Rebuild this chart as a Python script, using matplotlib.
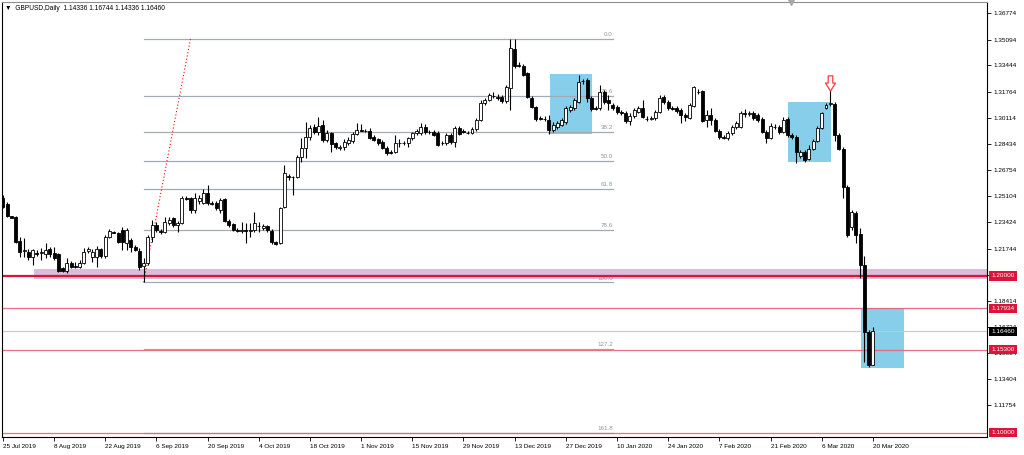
import matplotlib
matplotlib.use('Agg')
import matplotlib.pyplot as plt
import matplotlib.transforms as mtransforms
from matplotlib.patches import Rectangle
from matplotlib.path import Path
import numpy as np

plt.rcParams['font.family'] = ['Liberation Sans', 'DejaVu Sans']

# date labels, one every 12 daily bars (broker shows Sunday bars)
date_labels = ['25 Jul 2019', '8 Aug 2019', '22 Aug 2019', '6 Sep 2019', '20 Sep 2019',
               '4 Oct 2019', '18 Oct 2019', '1 Nov 2019', '15 Nov 2019', '29 Nov 2019',
               '13 Dec 2019', '27 Dec 2019', '10 Jan 2020', '24 Jan 2020', '7 Feb 2020',
               '21 Feb 2020', '6 Mar 2020', '20 Mar 2020']
bars_per_label = 12

opens = [
    1.2498, 1.2460, 1.2380, 1.2376, 1.2223, 1.2159, 1.2153, 1.2121, 1.2147, 1.2147, 1.2140, 1.2172,
    1.2147, 1.2140, 1.2051, 1.2032, 1.2083, 1.2064, 1.2057, 1.2083, 1.2159, 1.2121, 1.2121, 1.2172,
    1.2127, 1.2249, 1.2281, 1.2274, 1.2293, 1.2210, 1.2229, 1.2185, 1.2159, 1.2064, 1.2083, 1.2249,
    1.2325, 1.2287, 1.2281, 1.2338, 1.2370, 1.2325, 1.2338, 1.2498, 1.2498, 1.2421, 1.2479, 1.2466,
    1.2530, 1.2466, 1.2466, 1.2421, 1.2491, 1.2351, 1.2332, 1.2293, 1.2287, 1.2293, 1.2290, 1.2293,
    1.2319, 1.2306, 1.2319, 1.2287, 1.2217, 1.2210, 1.2440, 1.2638, 1.2632, 1.2632, 1.2759, 1.2817,
    1.2887, 1.2951, 1.2919, 1.2964, 1.2868, 1.2913, 1.2849, 1.2820, 1.2823, 1.2849, 1.2862, 1.2906,
    1.2932, 1.2929, 1.2926, 1.2887, 1.2874, 1.2855, 1.2817, 1.2791, 1.2791, 1.2849, 1.2846, 1.2849,
    1.2881, 1.2913, 1.2913, 1.2951, 1.2922, 1.2919, 1.2913, 1.2849, 1.2849, 1.2900, 1.2855, 1.2945,
    1.2926, 1.2916, 1.2913, 1.2938, 1.2996, 1.3104, 1.3124, 1.3152, 1.3143, 1.3143, 1.3117, 1.3200,
    1.3449, 1.3347, 1.3341, 1.3296, 1.3136, 1.3079, 1.3008, 1.3005, 1.2996, 1.2932, 1.2951, 1.2964,
    1.2983, 1.3060, 1.3072, 1.3111, 1.3242, 1.3251, 1.3136, 1.3072, 1.3072, 1.3175, 1.3124, 1.3092,
    1.3079, 1.3044, 1.3040, 1.2989, 1.3021, 1.3047, 1.3072, 1.3005, 1.3005, 1.3008, 1.3047, 1.3143,
    1.3111, 1.3072, 1.3072, 1.3060, 1.3028, 1.3008, 1.3085, 1.3178, 1.3181, 1.2996, 1.3028, 1.2996,
    1.2926, 1.2887, 1.2881, 1.2913, 1.2951, 1.2951, 1.3040, 1.3037, 1.3040, 1.3028, 1.3002, 1.2919,
    1.2881, 1.2954, 1.2951, 1.2919, 1.3002, 1.2900, 1.2887, 1.2766, 1.2791, 1.2747, 1.2811, 1.2862,
    1.2945, 1.3072, 1.3098, 1.3098, 1.2900, 1.2811, 1.2568, 1.2312, 1.2402, 1.2268, 1.2070, 1.1645,
    1.14336]
highs = [
    1.2517, 1.2472, 1.2383, 1.2383, 1.2249, 1.2242, 1.2172, 1.2172, 1.2166, 1.2178, 1.2210, 1.2185,
    1.2185, 1.2147, 1.2057, 1.2115, 1.2096, 1.2089, 1.2102, 1.2178, 1.2185, 1.2172, 1.2191, 1.2178,
    1.2261, 1.2300, 1.2287, 1.2281, 1.2312, 1.2306, 1.2242, 1.2197, 1.2178, 1.2115, 1.2261, 1.2357,
    1.2344, 1.2300, 1.2376, 1.2376, 1.2376, 1.2351, 1.2511, 1.2511, 1.2504, 1.2530, 1.2517, 1.2555,
    1.2581, 1.2479, 1.2479, 1.2498, 1.2498, 1.2364, 1.2338, 1.2306, 1.2344, 1.2338, 1.2338, 1.2408,
    1.2344, 1.2332, 1.2325, 1.2300, 1.2223, 1.2440, 1.2708, 1.2651, 1.2638, 1.2772, 1.2881, 1.2983,
    1.2964, 1.2970, 1.3015, 1.2996, 1.2932, 1.2919, 1.2855, 1.2836, 1.2874, 1.2887, 1.2919, 1.2977,
    1.2970, 1.2938, 1.2945, 1.2900, 1.2881, 1.2868, 1.2830, 1.2804, 1.2900, 1.2874, 1.2862, 1.2887,
    1.2919, 1.2938, 1.2977, 1.2970, 1.2932, 1.2932, 1.2926, 1.2862, 1.2913, 1.2913, 1.2957, 1.2957,
    1.2938, 1.2926, 1.2951, 1.3009, 1.3124, 1.3136, 1.3168, 1.3175, 1.3162, 1.3155, 1.3219, 1.3513,
    1.3513, 1.3366, 1.3353, 1.3302, 1.3149, 1.3085, 1.3021, 1.3021, 1.3028, 1.2983, 1.2989, 1.3009,
    1.3085, 1.3092, 1.3136, 1.3283, 1.3258, 1.3264, 1.3149, 1.3085, 1.3219, 1.3187, 1.3155, 1.3104,
    1.3092, 1.3060, 1.3053, 1.3040, 1.3072, 1.3085, 1.3124, 1.3021, 1.3021, 1.3060, 1.3155, 1.3155,
    1.3124, 1.3085, 1.3085, 1.3072, 1.3040, 1.3104, 1.3213, 1.3194, 1.3187, 1.3060, 1.3072, 1.3009,
    1.2938, 1.2900, 1.2926, 1.2964, 1.2989, 1.3053, 1.3066, 1.3053, 1.3053, 1.3040, 1.3015, 1.2932,
    1.2977, 1.2970, 1.2964, 1.3015, 1.3015, 1.2913, 1.2900, 1.2804, 1.2804, 1.2836, 1.2874, 1.2957,
    1.3047, 1.3104, 1.3206, 1.3111, 1.2913, 1.2823, 1.2581, 1.2421, 1.2415, 1.2306, 1.2127, 1.1655,
    1.16744]
lows = [
    1.2434, 1.2376, 1.2370, 1.2210, 1.2121, 1.2121, 1.2102, 1.2070, 1.2127, 1.2102, 1.2115, 1.2121,
    1.2102, 1.2025, 1.2025, 1.2019, 1.2051, 1.2051, 1.2051, 1.2076, 1.2147, 1.2089, 1.2057, 1.2115,
    1.2115, 1.2242, 1.2274, 1.2210, 1.2166, 1.2166, 1.2153, 1.2159, 1.2038, 1.1961, 1.2070, 1.2217,
    1.2281, 1.2268, 1.2274, 1.2325, 1.2312, 1.2281, 1.2332, 1.2485, 1.2402, 1.2402, 1.2460, 1.2460,
    1.2453, 1.2453, 1.2421, 1.2402, 1.2344, 1.2312, 1.2287, 1.2281, 1.2274, 1.2210, 1.2249, 1.2281,
    1.2281, 1.2293, 1.2281, 1.2204, 1.2197, 1.2204, 1.2434, 1.2613, 1.2517, 1.2625, 1.2727, 1.2753,
    1.2868, 1.2906, 1.2900, 1.2855, 1.2855, 1.2791, 1.2811, 1.2804, 1.2804, 1.2836, 1.2849, 1.2900,
    1.2926, 1.2919, 1.2874, 1.2862, 1.2836, 1.2811, 1.2772, 1.2779, 1.2785, 1.2823, 1.2836, 1.2823,
    1.2868, 1.2900, 1.2900, 1.2906, 1.2906, 1.2894, 1.2830, 1.2836, 1.2836, 1.2843, 1.2823, 1.2900,
    1.2913, 1.2906, 1.2906, 1.2926, 1.2989, 1.3092, 1.3117, 1.3136, 1.3124, 1.3104, 1.3104, 1.3060,
    1.3328, 1.3334, 1.3277, 1.3136, 1.3072, 1.2989, 1.2996, 1.2989, 1.2906, 1.2919, 1.2938, 1.2957,
    1.2970, 1.3047, 1.3060, 1.3104, 1.3226, 1.3111, 1.3053, 1.3060, 1.3060, 1.3098, 1.3060, 1.3060,
    1.3034, 1.3028, 1.2977, 1.2964, 1.3009, 1.3040, 1.3008, 1.2989, 1.2996, 1.2996, 1.3040, 1.3098,
    1.3060, 1.3060, 1.3040, 1.2977, 1.2989, 1.3002, 1.3079, 1.3162, 1.2983, 1.2951, 1.2964, 1.2919,
    1.2874, 1.2874, 1.2868, 1.2900, 1.2938, 1.2945, 1.3015, 1.3021, 1.2996, 1.2983, 1.2913, 1.2849,
    1.2874, 1.2938, 1.2906, 1.2913, 1.2887, 1.2874, 1.2721, 1.2753, 1.2727, 1.2740, 1.2804, 1.2855,
    1.2938, 1.3066, 1.3085, 1.2862, 1.2804, 1.2498, 1.2249, 1.2293, 1.2210, 1.1987, 1.1450, 1.1418,
    1.14336]
closes = [
    1.2440, 1.2383, 1.2373, 1.2217, 1.2153, 1.2166, 1.2121, 1.2166, 1.2143, 1.2153, 1.2166, 1.2140,
    1.2115, 1.2032, 1.2032, 1.2083, 1.2057, 1.2060, 1.2083, 1.2153, 1.2172, 1.2153, 1.2172, 1.2127,
    1.2249, 1.2287, 1.2277, 1.2217, 1.2217, 1.2293, 1.2185, 1.2166, 1.2057, 1.2083, 1.2249, 1.2325,
    1.2293, 1.2281, 1.2344, 1.2357, 1.2325, 1.2338, 1.2498, 1.2494, 1.2421, 1.2498, 1.2498, 1.2530,
    1.2466, 1.2462, 1.2434, 1.2485, 1.2351, 1.2325, 1.2293, 1.2287, 1.2293, 1.2287, 1.2293, 1.2338,
    1.2316, 1.2319, 1.2293, 1.2217, 1.2204, 1.2434, 1.2657, 1.2632, 1.2629, 1.2759, 1.2817, 1.2887,
    1.2945, 1.2919, 1.2957, 1.2868, 1.2913, 1.2843, 1.2823, 1.2823, 1.2855, 1.2868, 1.2906, 1.2932,
    1.2929, 1.2926, 1.2881, 1.2868, 1.2849, 1.2817, 1.2785, 1.2788, 1.2849, 1.2846, 1.2849, 1.2881,
    1.2913, 1.2926, 1.2951, 1.2919, 1.2919, 1.2900, 1.2836, 1.2846, 1.2900, 1.2855, 1.2945, 1.2906,
    1.2922, 1.2913, 1.2938, 1.2996, 1.3104, 1.3124, 1.3155, 1.3149, 1.3136, 1.3117, 1.3206, 1.3456,
    1.3341, 1.3344, 1.3283, 1.3143, 1.3079, 1.3002, 1.3005, 1.3002, 1.2932, 1.2964, 1.2977, 1.2996,
    1.3072, 1.3079, 1.3124, 1.3238, 1.3245, 1.3136, 1.3066, 1.3069, 1.3175, 1.3111, 1.3104, 1.3072,
    1.3047, 1.3040, 1.2989, 1.3021, 1.3060, 1.3072, 1.3015, 1.3002, 1.3008, 1.3047, 1.3136, 1.3111,
    1.3072, 1.3069, 1.3053, 1.3028, 1.3015, 1.3092, 1.3206, 1.3175, 1.2989, 1.3028, 1.2996, 1.2926,
    1.2887, 1.2884, 1.2913, 1.2951, 1.2977, 1.3040, 1.3037, 1.3040, 1.3008, 1.2996, 1.2919, 1.2881,
    1.2957, 1.2951, 1.2919, 1.2996, 1.2900, 1.2887, 1.2791, 1.2791, 1.2740, 1.2811, 1.2862, 1.2945,
    1.3040, 1.3092, 1.3104, 1.2900, 1.2811, 1.2568, 1.2261, 1.2408, 1.2261, 1.2070, 1.1642, 1.1431,
    1.16460]

price_ticks = [1.36774, 1.35094, 1.33444, 1.31764, 1.30114, 1.28434, 1.26754, 1.25104,
               1.23424, 1.21744, 1.20064, 1.18414, 1.16734, 1.15054, 1.13404, 1.11754]

# fibonacci retracement: 3 Sep low to 12 Dec high
fib_low, fib_high = 1.1959, 1.3514
fib_start, fib_end = 33, 143
fib_levels = [0.0, 23.6, 38.2, 50.0, 61.8, 78.6, 100.0, 127.2, 161.8]

level_strong = 1.20000
levels_thin = [1.17934, 1.15300, 1.10000]
last_price = 1.16460

o = np.array(opens)
h = np.array(highs)
l = np.array(lows)
c = np.array(closes)
x = np.arange(len(o))

fig = plt.figure(figsize=(10.24, 4.55), dpi=100)
ax = fig.add_axes([2 / 1024, 18 / 455, 985 / 1024, 435 / 455])
ax.set_xlim(-0.2, 230.75)
ax.set_ylim(1.09717, 1.37496)

# zones
ax.add_patch(Rectangle((7.3, 1.1980), 240, 0.0064, fc='#dbbddb', ec='none', zorder=1))
for x0, p0, p1 in [(128.25, 1.2907, 1.3288), (184.2, 1.2730, 1.3109), (201.2, 1.1414, 1.1794)]:
    ax.add_patch(Rectangle((x0, p0), 10, p1 - p0, fc='#87ceeb', ec='none', zorder=1))

# fibo
rng = fib_high - fib_low
for lvl in fib_levels:
    p = fib_high - lvl / 100 * rng
    ax.plot([fib_start, fib_end], [p, p], color='#a2aab6', lw=0.9, zorder=1.5)
    ax.text(fib_end, p + 0.0012, f'{lvl:.1f}', ha='right', va='bottom',
            fontsize=4.5, color='#8f98a6', zorder=1.6)
ax.plot([fib_start, 44], [fib_low, fib_high], color='red', lw=0.8, ls=(0, (1, 2)), zorder=1.7)

# horizontal levels
ax.axhline(last_price, color='#c8c8c8', lw=0.8, zorder=1.8)
ax.axhline(level_strong, color='#dc143c', lw=1.6, zorder=2.5)
for lv in levels_thin:
    ax.axhline(lv, color='#e8607a', lw=0.9, alpha=0.9, zorder=2.5)

# candles
bull = c >= o
ax.vlines(x, l, h, color='black', lw=0.8, zorder=3)
ax.bar(x, np.maximum(np.abs(c - o), 0.00005), bottom=np.minimum(o, c), width=0.7,
       color=np.where(bull, 'white', 'black'), edgecolor='black', lw=0.6, zorder=4)

# sell arrow (hollow, pointing down)
arrow = Path([(-0.3, 1), (0.3, 1), (0.3, 0.05), (0.65, 0.05), (0, -1),
              (-0.65, 0.05), (-0.3, 0.05), (-0.3, 1)])
ax.plot([194], [1.3235], marker=arrow, ms=11, mfc='white', mec='#ff3b3b', mew=0.9, zorder=5)

# axes style
for s in ax.spines.values():
    s.set_color('black')
    s.set_linewidth(0.8)
ax.spines['top'].set_color('#909090')
ax.yaxis.tick_right()
ax.set_yticks(price_ticks)
ax.set_yticklabels([f'{t:.5f}' for t in price_ticks])
ax.tick_params(axis='y', labelsize=4.6, length=3, width=0.6, pad=2)
ax.set_xticks([k * bars_per_label for k in range(len(date_labels))])
ax.set_xticklabels(date_labels, ha='left')
ax.tick_params(axis='x', labelsize=4.6, length=3, width=0.6, pad=2)

# price boxes on the scale
tr = mtransforms.blended_transform_factory(ax.transAxes, ax.transData)
boxes = [(1.20000, '#dc143c'), (1.17934, '#dc143c'), (1.15300, '#dc143c'),
         (1.10000, '#dc143c'), (last_price, 'black')]
for p, col in boxes:
    ax.text(1.0045, p, f'{p:.5f}', transform=tr, ha='left', va='center', fontsize=4.6,
            color='white', clip_on=False, zorder=10,
            bbox=dict(boxstyle='square,pad=0.35', fc=col, ec='none'))

ax.plot([184.8], [1.37496], marker='v', color='#a8a8a8', ms=4, clip_on=False, zorder=6)

fig.text(5 / 1024, 1 - 8 / 455, '\u25bc  GBPUSD,Daily  1.14336 1.16744 1.14336 1.16460',
         fontsize=4.8, va='center', ha='left')

fig.savefig('out.png', dpi=100)
